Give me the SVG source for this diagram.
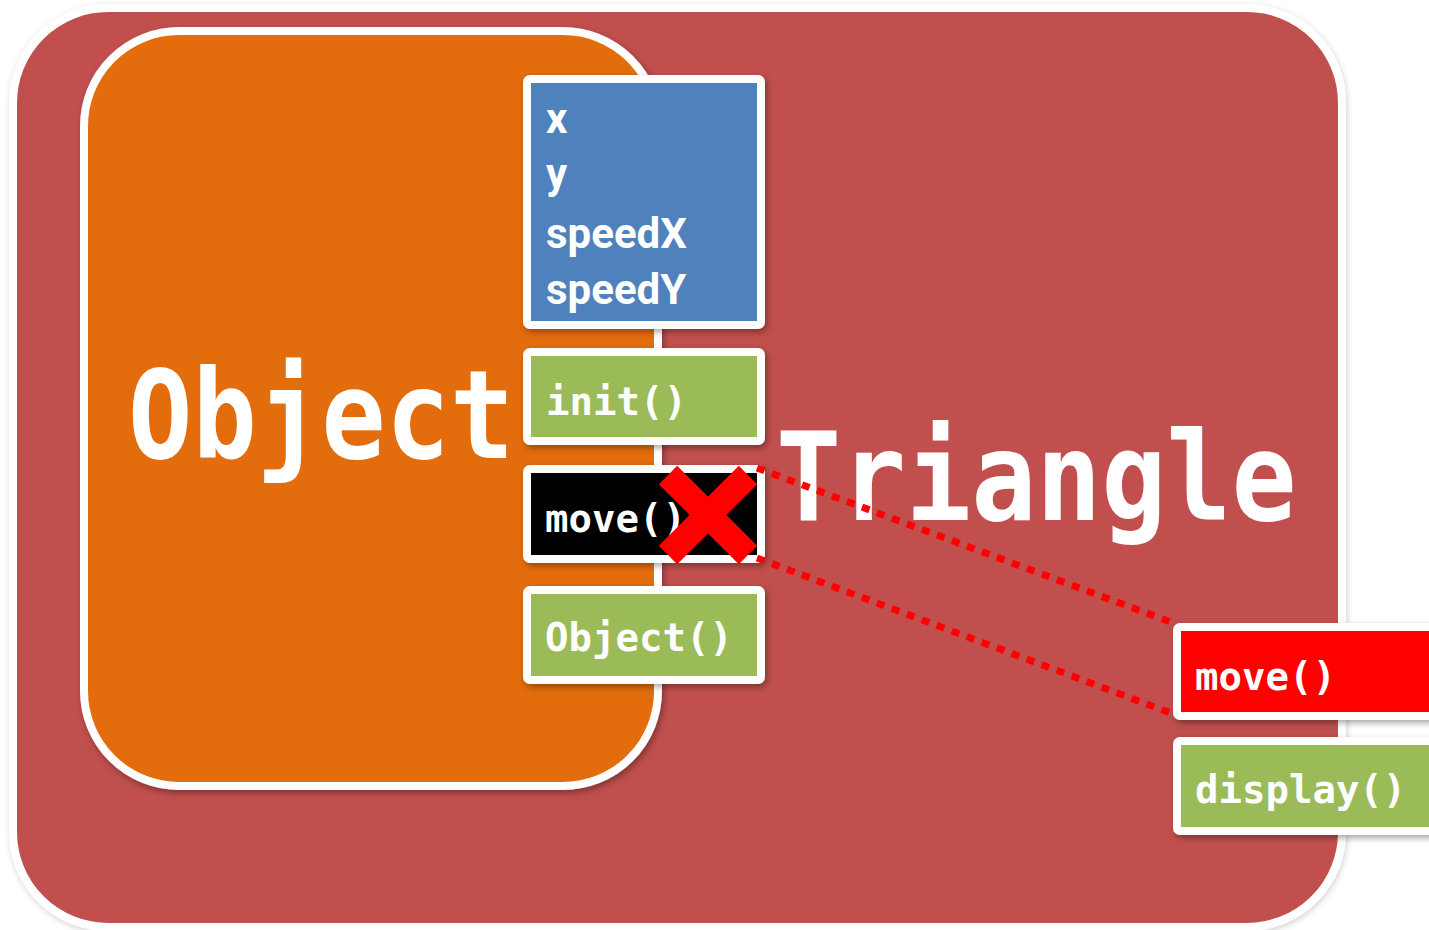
<svg xmlns="http://www.w3.org/2000/svg" width="1429" height="930" viewBox="0 0 1429 930">
  <defs>
    <filter id="sh" x="-10%" y="-10%" width="130%" height="130%">
      <feDropShadow dx="2" dy="3" stdDeviation="3" flood-color="#000" flood-opacity="0.35"/>
    </filter>
    <filter id="sh2" x="-5%" y="-5%" width="110%" height="110%">
      <feDropShadow dx="1" dy="2" stdDeviation="3" flood-color="#000" flood-opacity="0.18"/>
    </filter>
  </defs>
  <style>
    .box { stroke: #FFFFFF; stroke-width: 8; filter: url(#sh); }
    .mono { font-family: "DejaVu Sans Mono", "Liberation Mono", monospace; font-weight: bold; fill: #FFFFFF; }
    .sm { font-size: 39px; }
    .big { font-size: 107px; }
    .attr { font-family: Roboto, "Liberation Sans", sans-serif; font-weight: bold; font-size: 42px; fill: #FFFFFF; }
    .dot { stroke: #FF0000; stroke-width: 7; stroke-dasharray: 8 8; fill: none; }
  </style>
  <rect width="1429" height="930" fill="#FFFFFF"/>
  <g id="triangle-class">
    <rect x="13" y="8" width="1329" height="919" rx="95" ry="95" fill="#C0504D" stroke="#FFFFFF" stroke-width="8" filter="url(#sh2)"/>
  </g>
  <g id="object-class">
    <rect x="84" y="31" width="574" height="755" rx="95" ry="95" fill="#E36C0A" stroke="#FFFFFF" stroke-width="8" filter="url(#sh)"/>
    <text class="mono big" x="0" y="0" transform="translate(128,458) scale(1,1.15)">Object</text>
  </g>
  <g id="triangle-label">
    <text class="mono big" x="0" y="0" transform="translate(776,520) scale(1.01,1.15)">Triangle</text>
  </g>
  <g id="attributes">
    <rect class="box" x="527" y="79" width="234" height="246" rx="3" fill="#4F81BD"/>
    <text class="attr" x="546" y="133">x</text>
    <text class="attr" x="546" y="188">y</text>
    <text class="attr" x="546" y="248">speedX</text>
    <text class="attr" x="546" y="304">speedY</text>
  </g>
  <g id="init">
    <rect class="box" x="527" y="352" width="234" height="89" rx="3" fill="#9BBB59"/>
    <text class="mono sm" x="546" y="415">init()</text>
  </g>
  <g id="move-object">
    <rect class="box" x="527" y="469" width="234" height="90" rx="3" fill="#000000"/>
    <text class="mono sm" x="545" y="532">move()</text>
    <line x1="668" y1="475" x2="748" y2="555" stroke="#FF0000" stroke-width="26"/>
    <line x1="748" y1="475" x2="668" y2="555" stroke="#FF0000" stroke-width="26"/>
  </g>
  <g id="object-constructor">
    <rect class="box" x="527" y="590" width="234" height="90" rx="3" fill="#9BBB59"/>
    <text class="mono sm" x="545" y="651">Object()</text>
  </g>
  <g id="move-triangle">
    <rect class="box" x="1177" y="627" width="270" height="89" rx="3" fill="#FF0000"/>
    <text class="mono sm" x="1195" y="690">move()</text>
  </g>
  <g id="display">
    <rect class="box" x="1177" y="741" width="270" height="90" rx="3" fill="#9BBB59"/>
    <text class="mono sm" x="1195" y="803">display()</text>
  </g>
  <g id="connectors">
    <line class="dot" x1="757" y1="468" x2="1176" y2="624"/>
    <line class="dot" x1="757" y1="558" x2="1176" y2="715"/>
  </g>
</svg>
